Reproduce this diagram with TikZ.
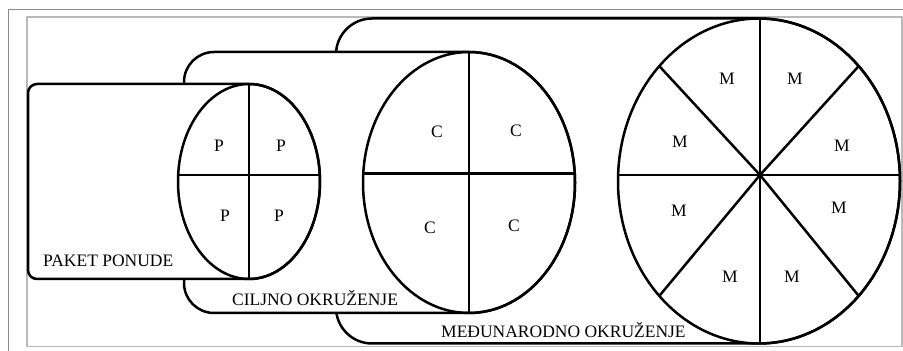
\documentclass[tikz,border=0pt]{standalone}
\usepackage{fontspec}
\setmainfont{Liberation Serif}
\usetikzlibrary{calc}
\begin{document}
\begin{tikzpicture}[x=1pt, y=1pt, line join=round,
      env/.style={draw, line width=2.5pt, fill=white},
      part/.style={draw, line width=2.5pt},
      lbl/.style={font=\fontsize{17.5}{20}\selectfont, anchor=base west, inner sep=0pt},
      sect/.style={font=\fontsize{17.5}{20}\selectfont, inner sep=0pt}]
    \useasboundingbox (0,0) rectangle (903,351);
    % page frames
    \draw[gray!90] (8.5,-5) |- (910,341.5);
    \draw[gray!55, line width=1.2pt, fill=white] (27,4.5) rectangle (902,334);

    % international environment
    \draw[env] (759,332.5) -- (372,332.5) arc[start angle=90, end angle=180, radius=36]
      -- (336,43.5) arc[start angle=180, end angle=270, radius=36]
      -- (759,7.5) arc[start angle=-90, end angle=90, x radius=141, y radius=162.5] -- cycle;
    \coordinate (mc) at (759,170);
    \coordinate (mh) at (760,176);
    \begin{scope}
      \clip (mc) ellipse [x radius=141, y radius=162.5];
      \draw[part] (mh) -- ++(0,200) (mh) -- ++(0,-200) (mh) -- ++(200,0) (mh) -- ++(-200,0);
      \foreach \a in {45,135,225,315}
        \draw[part] (mh) -- ($(mc)+(\a:141 and 162.5)$);
    \end{scope}
    \draw[part] (mc) ellipse [x radius=141, y radius=162.5];

    % target environment
    \draw[env] (469,299) -- (214,299) arc[start angle=90, end angle=180, radius=30]
      -- (184,68) arc[start angle=180, end angle=270, radius=30]
      -- (469,38) arc[start angle=-90, end angle=90, x radius=106, y radius=130.5] -- cycle;
    \coordinate (cc) at (469,168.5);
    \coordinate (ch) at (469,177.5);
    \begin{scope}
      \clip (cc) ellipse [x radius=106, y radius=130.5];
      \draw[part] (ch) -- ++(0,200) (ch) -- ++(0,-200) (ch) -- ++(200,0) (ch) -- ++(-200,0);
    \end{scope}
    \draw[part] (cc) ellipse [x radius=106, y radius=130.5];

    % offer package
    \draw[env] (249,267) -- (37,267) arc[start angle=90, end angle=180, radius=9]
      -- (28,81) arc[start angle=180, end angle=270, radius=9]
      -- (249,72) arc[start angle=-90, end angle=90, x radius=71, y radius=97.5] -- cycle;
    \coordinate (pc) at (249,169.5);
    \coordinate (ph) at (249,176);
    \begin{scope}
      \clip (pc) ellipse [x radius=71, y radius=97.5];
      \draw[part] (ph) -- ++(0,200) (ph) -- ++(0,-200) (ph) -- ++(200,0) (ph) -- ++(-200,0);
    \end{scope}
    \draw[part] (pc) ellipse [x radius=71, y radius=97.5];

    % sector letters
    \foreach \n/\x/\y in {1/219/205, 2/281/205, 3/225/135, 4/279/135}
      \node[sect] (p\n) at (\x,\y) {P};
    \foreach \n/\x/\y in {1/437/219, 2/516/220, 3/430/123, 4/514/125}
      \node[sect] (c\n) at (\x,\y) {C};
    \foreach \n/\x/\y in {1/727/272, 2/795/272, 3/680/209, 4/842/205,
                          5/679/140, 6/839/143, 7/730/74, 8/792/74}
      \node[sect] (m\n) at (\x,\y) {M};

    % environment names
    \node[lbl] (paket) at (43,84) {PAKET PONUDE};
    \node[lbl] (ciljno) at (232,45) {CILJNO OKRUŽENJE};
    \node[lbl] (medjun) at (441,13) {MEĐUNARODNO OKRUŽENJE};
  \end{tikzpicture}
\end{document}
